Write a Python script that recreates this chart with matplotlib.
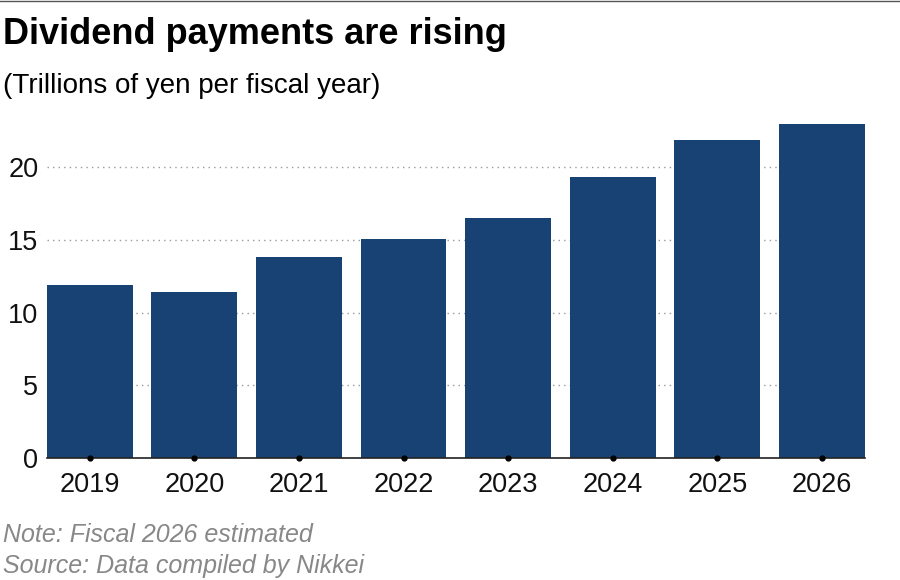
import matplotlib.pyplot as plt

years = ['2019', '2020', '2021', '2022', '2023', '2024', '2025', '2026']
dividends = [11.9, 11.4, 13.8, 15.05, 16.5, 19.3, 21.9, 22.95]
yticks = [0, 5, 10, 15, 20]

plt.rcParams['font.family'] = ['Liberation Sans', 'DejaVu Sans']

fig = plt.figure(figsize=(9, 5.8), dpi=100)
ax = fig.add_axes([0.052, 0.21, 0.909, 0.582])

x = range(len(years))
ax.bar(x, dividends, width=0.82, color='#174273', zorder=2)
ax.set_xlim(-0.41, len(years) - 0.59)
ax.set_ylim(0, 23.2)
ax.set_yticks(yticks)
ax.set_xticks(list(x))
ax.set_xticklabels(years)
ax.tick_params(axis='both', length=0, labelsize=19.5, colors='#111111')
ax.tick_params(axis='x', pad=10)
ax.tick_params(axis='y', pad=6)
ax.grid(axis='y', linestyle=(0, (1, 3)), color='#999999', linewidth=1, zorder=0)
for s in ['top', 'right', 'left']:
    ax.spines[s].set_visible(False)
ax.spines['bottom'].set_color('#222222')
ax.spines['bottom'].set_linewidth(1.2)
ax.plot(list(x), [0] * len(years), 'o', color='black', markersize=3.5,
        clip_on=False, zorder=3)

fig.add_artist(plt.Line2D([0, 1], [0.999, 0.999], color='#555555', linewidth=1))
fig.text(0.003, 0.94, 'Dividend payments are rising', fontsize=26,
         fontweight='bold', va='center')
fig.text(0.003, 0.852, '(Trillions of yen per fiscal year)', fontsize=20, va='center')
fig.text(0.003, 0.078, 'Note: Fiscal 2026 estimated', fontsize=18,
         style='italic', color='#888888', va='center')
fig.text(0.003, 0.025, 'Source: Data compiled by Nikkei', fontsize=18,
         style='italic', color='#888888', va='center')

fig.savefig('out.png', dpi=100)
